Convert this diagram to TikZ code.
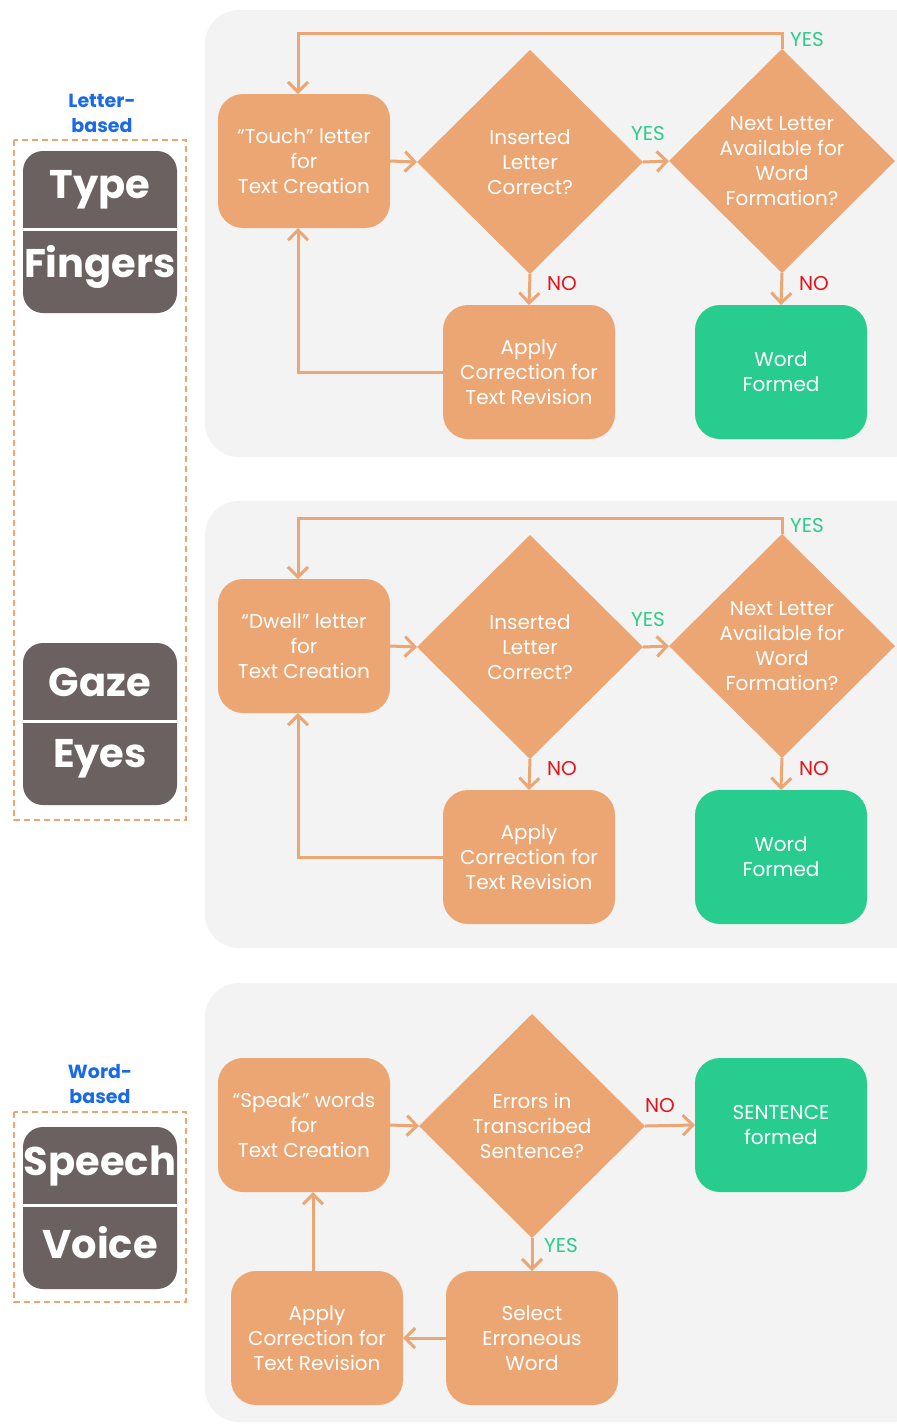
\documentclass[tikz,border=0pt]{standalone}
\usepackage{fontspec}
\setmainfont{Poppins}
\usetikzlibrary{shapes.geometric,arrows.meta,calc}
\definecolor{orng}{HTML}{ECA673}
\definecolor{grn}{HTML}{29CC8F}
\definecolor{panelc}{HTML}{F3F3F3}
\definecolor{dgray}{HTML}{6B6160}
\definecolor{blu}{HTML}{1A6AE8}
\definecolor{yesc}{HTML}{2DCC8C}
\definecolor{noc}{HTML}{E5131B}
\begin{document}
\begin{tikzpicture}[x=0.5pt,y=-0.5pt,
  panel/.style={fill=panelc, rounded corners=17pt},
  box/.style={fill=orng, rounded corners=12.5pt, minimum width=86pt, minimum height=67pt, text=white, align=center, inner sep=0pt, outer sep=0pt, font=\fontsize{10}{12.5}\selectfont},
  gbox/.style={box, fill=grn},
  dia/.style={diamond, fill=orng, minimum width=113pt, minimum height=112pt, inner sep=0pt, outer sep=0pt, text=white, align=center, font=\fontsize{10}{12.5}\selectfont},
  conn/.style={draw=orng, line width=1.5pt, -{Straight Barb[length=5pt,width=10pt]}},
  yes/.style={text=yesc, font=\fontsize{10}{12}\selectfont, inner sep=0pt},
  no/.style={text=noc, font=\fontsize{10}{12}\selectfont, inner sep=0pt},
  blab/.style={text=blu, align=center, font=\bfseries\fontsize{9.5}{12.5}\selectfont},
  dashbox/.style={draw=orng, line width=0.6pt, dash pattern=on 3pt off 2pt},
  dark/.style={fill=dgray, rounded corners=10pt, minimum width=77pt, minimum height=81pt, inner sep=0pt},
  big/.style={text=white, font=\bfseries\fontsize{20}{22}\selectfont, inner sep=0pt},
  sepline/.style={draw=white, line width=1.5pt}
]
\useasboundingbox (0,0) rectangle (897,1425);
\clip (0,0) rectangle (897,1425);

% panels
\fill[panel] (205,10) rectangle (930,457);
\fill[panel] (205,501) rectangle (930,948);
\fill[panel] (205,983) rectangle (930,1422);

% left labels
\node[blab] (lb1) at (102,113) {Letter-\\based};
\draw[dashbox] (14,140) rectangle (186,820);
\node[dark] (tf) at (100,232) {};
\draw[sepline] ($(tf.west)+(0,-3)$) -- ($(tf.east)+(0,-3)$);
\node[big] (w1) at (100,190) {Type};
\node[big] (w2) at (100,267) {Fingers};
\node[dark] (ge) at (100,724) {};
\draw[sepline] ($(ge.west)+(0,-3)$) -- ($(ge.east)+(0,-3)$);
\node[big] (w3) at (100,682) {Gaze};
\node[big] (w4) at (100,759) {Eyes};

\node[blab] (lb2) at (100,1084) {Word-\\based};
\draw[dashbox] (14,1112) rectangle (186,1302);
\node[dark] (sv) at (100,1208) {};
\draw[sepline] ($(sv.west)+(0,-3)$) -- ($(sv.east)+(0,-3)$);
\node[big] (w5) at (100,1166) {Speech};
\node[big] (w6) at (100,1243) {Voice};

% letter-based panels
\foreach \o/\v/\s in {0/Touch/a, 485/Dwell/b}{
  \node[box] (t\s) at (304,161+\o) {“\v” letter\\for\\Text Creation};
  \node[dia] (d\s) at (530,162+\o) {Inserted\\Letter\\Correct?};
  \node[dia] (e\s) at (782,161+\o) {Next Letter\\Available for\\Word\\Formation?};
  \node[box] (ap\s) at (529,372+\o) {Apply\\Correction for\\Text Revision};
  \node[gbox] (wf\s) at (781,372+\o) {Word\\Formed};
  \draw[conn] (t\s.east) -- (d\s.west);
  \draw[conn] (d\s.east) -- (e\s.west);
  \node[yes] (y1\s) at (648,134+\o) {YES};
  \draw[conn] (d\s.south) -- (ap\s.north);
  \node[no] (n1\s) at (562,284+\o) {NO};
  \draw[conn] (e\s.south) -- (wf\s.north);
  \node[no] (n2\s) at (814,284+\o) {NO};
  \draw[conn] (ap\s.west) -| ($(t\s.south)+(-6,0)$);
  \draw[conn] (e\s.north) -- ++(0,-16) -| ($(t\s.north)+(-6,0)$);
  \node[yes] (y2\s) at (807,40+\o) {YES};
}

% word-based panel
\node[box] (sp) at (304,1125) {“Speak” words\\for\\Text Creation};
\node[dia] (dc) at (532,1126) {Errors in\\Transcribed\\Sentence?};
\node[gbox] (sf) at (781,1125) {SENTENCE\\formed};
\node[box] (se) at (532,1338) {Select\\Erroneous\\Word};
\node[box] (ac) at (317,1338) {Apply\\Correction for\\Text Revision};
\draw[conn] (sp.east) -- (dc.west);
\draw[conn] (dc.east) -- (sf.west);
\node[no] (n3) at (660,1106) {NO};
\draw[conn] (dc.south) -- (se.north);
\node[yes] (y3) at (561,1245) {YES};
\draw[conn] (se.west) -- (ac.east);
\coordinate (acu) at ($(ac.north)+(-4,0)$);
\draw[conn] (acu) -- (acu |- sp.south);
\end{tikzpicture}
\end{document}
